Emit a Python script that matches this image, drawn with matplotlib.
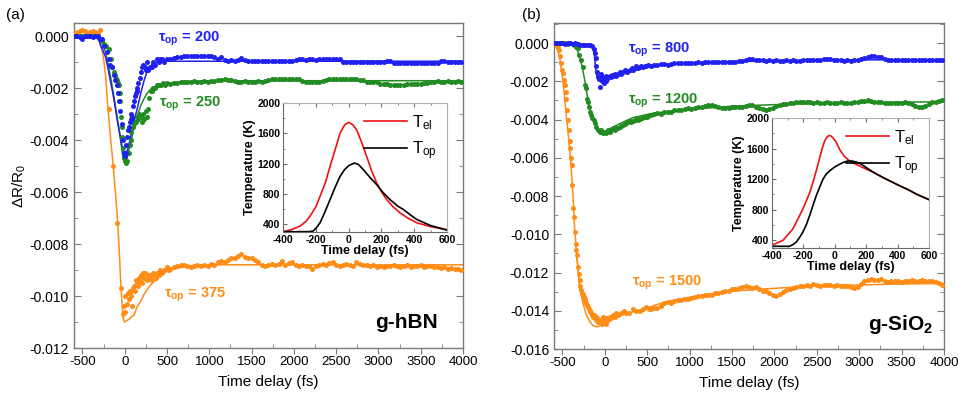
import numpy as np
import matplotlib
matplotlib.use('Agg')
import matplotlib.pyplot as plt
from matplotlib.ticker import MultipleLocator, FuncFormatter

plt.rcParams['font.family'] = ['Liberation Sans', 'DejaVu Sans']
plt.rcParams['mathtext.fontset'] = 'custom'
plt.rcParams['mathtext.rm'] = 'Liberation Sans'
plt.rcParams['mathtext.it'] = 'Liberation Sans:italic'
plt.rcParams['mathtext.bf'] = 'Liberation Sans:bold'

BLUE = '#2020f0'
GREEN = '#228b22'
ORANGE = '#ff8c14'

# ---------------- data (delta R / R0 in units of 1e-4) ----------------
tail_t = list(range(540, 4000, 40))   # sampling grid of the long-delay part

# panel (a) g-hBN
blue_a_front_t = [-590,-560,-530,-504,-470,-440,-410,-380,-350,-320,
                  -290,-267,-240,-210,-185,-168,-150,-130,-109,-95,
                  -80,-65,-50,-35,-22,-11,0,10,20,30,
                  40,49,60,70,80,89,100,110,120,130,
                  140,148,160,175,190,205,220,235,250,266,
                  280,295,306,325,340,360,380,400,420,440,
                  470,500]
blue_a_front_v = [0,0,-0.5,-1,0,0,0,-0.5,0,0,
                  -1,-1,-4,-6,-9,-11,-12,-15,-17,-19,
                  -22,-25,-29,-34,-40,-45,-46,-45,-42,-39,
                  -36,-35,-33,-32,-30,-31,-27,-25,-23,-22,
                  -21,-20,-18,-16,-14,-12,-11,-12,-13,-10,
                  -13,-12,-12,-12,-10,-11,-9,-10,-9,-9,
                  -10,-9]
blue_a_tail_v = [-8.8,-8.5,-8.2,-8.0,-7.8,-7.6,-7.5,-7.5,-7.6,-7.5,
                 -7.6,-7.5,-7.6,-8.0,-8.8,-8.0,-9.4,-9.5,-9.4,-9.5,
                 -9.4,-8.5,-9.3,-9.5,-9.6,-9.6,-9.5,-9.7,-9.6,-9.7,
                 -9.8,-9.7,-9.8,-9.7,-9.7,-9.8,-9.7,-9.1,-9.0,-9.0,
                 -9.1,-9.0,-9.0,-9.1,-9.0,-9.0,-8.8,-8.7,-8.7,-8.7,
                 -8.8,-10.0,-10.0,-10.1,-10.0,-10.0,-10.1,-10.0,-10.0,-10.1,
                 -10.0,-10.0,-10.1,-10.0,-9.5,-9.5,-10.3,-10.3,-10.4,-10.3,
                 -10.3,-10.4,-10.3,-10.3,-10.4,-10.3,-10.4,-10.3,-10.3,-10.2,
                 -9.5,-9.6,-10.0,-10.0,-10.1,-10.0,-10.0]

green_a_front_t = [-590,-560,-530,-500,-470,-440,-410,-380,-350,-320,
                   -290,-265,-250,-220,-188,-165,-148,-130,-115,-100,
                   -89,-80,-70,-60,-50,-45,-35,-28,-20,-11,
                   0,15,30,45,60,69,80,95,110,128,
                   140,155,170,187,200,215,230,246,260,275,
                   290,306,320,340,360,380,400,424,450,475,
                   500]
green_a_front_v = [0,0,0,0,0,0,0,0,0,-0.5,
                   -1,-2,-3,-4,-5,-9,-12,-14,-15,-16,
                   -17,-18,-19,-22,-25,-31,-35,-39,-43,-47,
                   -48,-49,-48,-45,-42,-40,-37,-35,-34,-33,
                   -31,-32,-30,-31,-33,-30,-32,-29,-31,-28,
                   -24,-21,-21,-20,-20,-19,-19,-19,-18,-19,
                   -18]
green_a_tail_v = [-18.5,-18.2,-18.0,-17.8,-17.6,-17.5,-17.5,-17.4,-17.5,-17.5,
                  -17.4,-17.5,-17.4,-17.3,-16.8,-16.8,-16.7,-16.8,-16.8,-17.3,
                  -17.5,-17.5,-17.4,-17.5,-17.5,-17.5,-17.4,-17.5,-17.4,-16.8,
                  -16.5,-16.5,-16.4,-16.5,-16.5,-16.4,-16.5,-16.6,-16.7,-17.4,
                  -17.5,-17.5,-17.6,-17.5,-17.5,-17.4,-17.0,-16.6,-16.5,-16.6,
                  -16.5,-16.6,-16.5,-16.6,-16.7,-16.6,-16.8,-17.0,-17.5,-17.5,
                  -17.6,-17.6,-18.3,-18.5,-18.6,-18.7,-18.8,-18.8,-18.7,-18.8,
                  -18.6,-18.5,-18.5,-18.4,-18.3,-18.2,-18.0,-17.6,-17.5,-17.4,
                  -17.5,-17.5,-17.4,-17.5,-17.5,-17.4,-17.5]

orange_a_front_t = [-590,-560,-530,-500,-470,-440,-410,-380,-350,-320,
                    -290,-188,-137,-89,-38,-23,-10,0,9,25,
                    35,50,60,69,75,89,100,110,120,135,
                    150,160,167,180,195,210,220,230,245,260,
                    275,290,306,320,335,350,365,385,400,420,
                    440,460,480,500,520]
orange_a_front_v = [1,1.5,2,2.5,2,1,1.5,2,1.5,1,
                    2.5,-28,-50,-72,-97,-107,-104,-106,-100,-103,
                    -99,-101,-98,-98,-100,-104,-97,-96,-98,-94,
                    -95,-96,-93,-94,-92,-95,-91,-93,-91,-94,
                    -92,-93,-92,-94,-91,-92,-93,-91,-92,-90,
                    -91,-90,-90,-89,-90]
orange_a_tail_v = [-89.5,-89.0,-88.5,-88.2,-88.0,-88.5,-88.8,-88.3,-88.0,-88.6,
                   -88.2,-88.5,-87.5,-88.0,-87.0,-86.5,-86.8,-86.0,-85.5,-85.2,
                   -84.5,-83.8,-85.0,-85.5,-85.5,-86.0,-87.0,-88.0,-88.5,-88.0,
                   -87.5,-88.2,-87.8,-86.5,-88.0,-87.2,-86.8,-88.0,-88.5,-88.0,
                   -88.3,-88.5,-89.8,-88.5,-88.0,-87.5,-88.0,-87.2,-86.8,-88.0,
                   -88.3,-88.0,-87.5,-88.2,-88.5,-87.0,-87.5,-88.2,-88.0,-88.6,
                   -88.2,-88.8,-88.5,-88.7,-88.3,-88.6,-88.0,-88.5,-88.8,-88.5,
                   -88.2,-88.8,-88.5,-88.6,-88.0,-88.8,-88.5,-88.6,-89.0,-88.7,
                   -89.3,-89.0,-89.5,-89.2,-89.5,-89.6,-90.0]

# fits, panel (a) (delta R / R0)
blue_a_fit_t = [-600,-400,-346,-300,-287,-260,-227,-200,-168,-140,
                -109,-80,-50,-30,-11,0,9,20,40,69,
                100,148,190,226,260,300,325,380,464,600,
                1000,2000,3000,4000]
blue_a_fit_v = [0,0,0,-0.0002,-0.00035,-0.00055,-0.0008,-0.0012,-0.00175,-0.0022,
                -0.0028,-0.0034,-0.0039,-0.0043,-0.0045,-0.0046,-0.0046,-0.0045,-0.0043,-0.0039,
                -0.0034,-0.0028,-0.0022,-0.00175,-0.0014,-0.0012,-0.00108,-0.0010,-0.00097,-0.00097,
                -0.00097,-0.00097,-0.00097,-0.00097]
green_a_fit_t = [-600,-400,-307,-280,-250,-220,-188,-160,-129,-100,
                 -70,-45,-18,2,20,49,80,108,150,187,
                 230,266,320,385,460,543,700,1000,2000,3000,
                 4000]
green_a_fit_v = [0,0,0,-0.0002,-0.0004,-0.0007,-0.0012,-0.0017,-0.0023,-0.0029,
                 -0.0035,-0.0041,-0.00475,-0.0049,-0.0048,-0.0044,-0.0040,-0.0035,-0.0031,-0.0027,
                 -0.0024,-0.0022,-0.0020,-0.0019,-0.00185,-0.0018,-0.00175,-0.00172,-0.00172,-0.00172,
                 -0.00172]
orange_a_fit_t = [-600,-400,-326,-300,-267,-245,-227,-200,-168,-136,
                  -110,-89,-70,-50,-30,-15,-3,20,49,80,
                  108,150,190,226,300,385,460,543,720,1000,
                  2000,3000,4000]
orange_a_fit_v = [0,0,0,-0.0002,-0.00055,-0.001,-0.0015,-0.0027,-0.0039,-0.005,
                  -0.006,-0.0069,-0.0079,-0.0093,-0.0104,-0.0109,-0.011,-0.01095,-0.0109,-0.0108,
                  -0.01075,-0.0104,-0.0102,-0.00995,-0.0096,-0.0093,-0.0091,-0.0090,-0.00885,-0.0088,
                  -0.0088,-0.0088,-0.0088]

# panel (b) g-SiO2
blue_b_front_t = [-590,-560,-530,-500,-470,-440,-410,-380,-350,-320,
                  -290,-260,-230,-200,-170,-150,-130,-121,-110,-101,
                  -90,-81,-70,-62,-50,-40,-30,-22,-10,0,
                  10,18,30,40,57,70,85,100,120,136,
                  155,175,195,215,235,255,275,295,315,333,
                  350,370,390,410,430,450,470,490,510]
blue_b_front_v = [0,0,0,0,-0.3,0,0,-0.5,0,-0.5,
                  -0.8,-1,-1.2,-1,-1,-1.5,-3,-5,-8,-12,
                  -15,-18,-19,-23,-16,-19,-20,-18,-21,-19,
                  -20,-17,-19,-18,-17,-18,-16.5,-17,-16,-17,
                  -16,-15,-16,-15,-14,-15,-14.5,-14,-13,-14,
                  -13,-12,-13,-12.5,-12,-12.5,-12,-12,-11.5]
blue_b_tail_v = [-11.8,-11.5,-11.6,-11.2,-11.0,-11.3,-10.8,-10.6,-10.5,-10.6,
                 -10.3,-10.4,-10.2,-10.3,-10.1,-10.2,-10.0,-10.1,-9.9,-10.0,
                 -9.8,-9.9,-9.8,-9.7,-9.8,-9.7,-9.6,-9.5,-9.0,-8.5,
                 -8.4,-8.6,-9.0,-9.1,-9.2,-9.1,-9.2,-9.1,-9.2,-9.2,
                 -9.1,-9.2,-9.1,-9.2,-9.2,-9.1,-9.0,-9.1,-9.1,-9.0,
                 -8.8,-8.4,-8.3,-8.4,-8.6,-9.0,-9.1,-9.2,-9.1,-9.2,
                 -9.0,-8.8,-8.4,-8.0,-7.5,-7.0,-6.8,-7.2,-7.5,-8.4,
                 -8.9,-9.0,-9.1,-9.0,-9.1,-9.0,-9.1,-9.0,-8.9,-9.0,
                 -9.1,-9.0,-8.9,-9.0,-8.9,-9.0,-9.1]

green_b_front_t = [-590,-560,-530,-500,-470,-440,-410,-380,-360,-342,
                   -322,-303,-283,-259,-240,-228,-212,-200,-188,-180,
                   -160,-148,-133,-117,-101,-81,-62,-42,-22,-2,
                   18,37,57,77,96,116,136,155,175,195,
                   215,235,254,273,293,313,333,353,373,392,
                   412,432,452,472,491,511]
green_b_front_v = [0,0,0.2,0,0,-0.3,0,-0.5,-1,-1.9,
                   -2.8,-6.3,-8.9,-12.4,-22,-23.7,-29,-30.7,-33.3,-35.9,
                   -37.6,-39.4,-40.3,-42,-43.8,-45.5,-46.4,-45.5,-47.2,-46.4,
                   -47.2,-45.5,-46.4,-45.5,-45.1,-45.5,-44.6,-44.2,-43.8,-43.4,
                   -42.9,-42.5,-42,-41.5,-40.6,-41.2,-41,-40.2,-39.4,-40.1,
                   -39.9,-39.2,-38.9,-38.6,-38.5,-38.2]
green_b_tail_v = [-37.5,-37.0,-36.5,-37.2,-36.0,-35.8,-36.0,-35.2,-34.8,-35.0,
                  -34.5,-34.2,-34.5,-34.0,-33.6,-33.2,-32.8,-32.5,-32.6,-33.0,
                  -33.5,-34.0,-34.0,-33.8,-33.5,-33.3,-33.4,-33.2,-32.8,-32.6,
                  -32.5,-33.5,-34.0,-34.5,-34.8,-34.6,-34.0,-33.0,-32.5,-32.0,
                  -31.8,-31.5,-31.2,-31.0,-30.8,-30.7,-30.8,-31.0,-31.2,-31.0,
                  -31.3,-31.2,-31.0,-31.2,-31.4,-31.2,-31.0,-31.3,-31.5,-31.2,
                  -31.0,-30.8,-30.4,-30.2,-30.0,-30.3,-30.6,-30.8,-31.0,-31.2,
                  -31.3,-31.1,-31.2,-31.3,-31.2,-31.0,-31.4,-32.0,-33.0,-33.5,
                  -33.6,-33.0,-32.0,-31.0,-30.6,-30.2,-30.0]

orange_b_front_t = [-590,-575,-555,-536,-524,-516,-504,-496,-484,-476,
                    -464,-456,-445,-437,-429,-417,-409,-401,-393,-385,
                    -378,-370,-358,-346,-338,-328,-318,-307,-299,-289,
                    -279,-269,-259,-250,-240,-230,-220,-210,-200,-190,
                    -180,-170,-160,-150,-141,-130,-120,-110,-101,-90,
                    -80,-70,-62,-50,-40,-30,-22,-10,0,10,
                    18,30,40,57,75,100,120,136,160,190,
                    220,254,290,330,370,412,450,490,520]
orange_b_front_v = [0,-1,-2,-3.7,-7,-10.6,-14,-15.8,-19.3,-22,
                    -25.4,-29,-35,-40,-45.5,-51,-55,-60,-64,-74,
                    -86,-91,-99,-105,-108,-111,-117,-121,-124,-127,
                    -129,-131,-131,-133,-134,-135,-136,-137,-138,-139,
                    -140,-140,-141,-142,-143,-142,-144,-143,-145,-144,
                    -146,-145,-145,-146,-145,-147,-143,-145,-144,-146,
                    -147,-144,-145,-143,-144,-142,-143,-141,-142,-141,
                    -140,-141,-141,-139,-140,-140,-139,-138,-139]
orange_b_tail_v = [-139.0,-138.5,-138.8,-137.5,-136.0,-135.5,-135.8,-135.0,-134.5,-134.2,
                   -133.8,-134.0,-133.2,-133.0,-132.5,-132.2,-131.8,-131.5,-131.6,-130.8,
                   -130.5,-130.2,-129.8,-129.5,-128.8,-128.5,-128.2,-127.5,-127.2,-127.6,
                   -128.0,-127.8,-128.5,-129.6,-129.8,-130.5,-131.5,-132.5,-131.0,-130.0,
                   -129.2,-128.8,-128.0,-127.5,-127.2,-127.0,-126.5,-126.8,-126.2,-126.5,
                   -126.8,-126.3,-126.6,-126.4,-127.0,-126.5,-127.2,-126.8,-127.0,-127.8,
                   -128.3,-127.5,-126.0,-124.5,-123.8,-123.5,-123.8,-124.0,-123.6,-124.5,
                   -124.8,-124.3,-124.6,-124.5,-124.8,-124.2,-124.5,-124.0,-124.3,-124.6,
                   -124.0,-124.4,-124.6,-124.3,-124.8,-125.5,-126.5]

# fits, panel (b)
blue_b_fit_t = [-600,-400,-200,-140,-130,-120,-110,-100,-90,-70,
                -40,0,50,100,200,300,400,500,700,1000,
                1500,2000,2500,3000,3500,4000]
blue_b_fit_v = [0,0,-0.0001,-0.00015,-0.0003,-0.0008,-0.0013,-0.0016,-0.0018,-0.0019,
                -0.00195,-0.0019,-0.0018,-0.0017,-0.0016,-0.0015,-0.00135,-0.00125,-0.00112,-0.00105,
                -0.00097,-0.00093,-0.0009,-0.00088,-0.00087,-0.00087]
green_b_fit_t = [-600,-400,-360,-330,-299,-270,-239,-210,-180,-150,
                 -121,-80,-42,-10,20,70,136,230,333,531,
                 700,925,1200,1500,2000,2500,3000,3500,4000]
green_b_fit_v = [0,0,-0.0001,-0.0003,-0.0007,-0.0012,-0.0019,-0.0027,-0.0034,-0.0039,
                 -0.0042,-0.0045,-0.0046,-0.0047,-0.0046,-0.00445,-0.0043,-0.0041,-0.0039,-0.0037,
                 -0.0036,-0.0035,-0.0034,-0.0033,-0.00322,-0.00316,-0.00312,-0.00309,-0.00307]
orange_b_fit1_t = [-600,-570,-536,-505,-476,-450,-417,-400,-378,-358,
                   -330,-299,-259,-220,-180,-140,-101,-62,-22,18,
                   57,100,136,300,531,700,925,1200,1440,1800,
                   2100,2465,3000,3500,4000]
orange_b_fit1_v = [0,-0.0002,-0.0007,-0.0016,-0.0028,-0.0040,-0.0055,-0.0064,-0.0078,-0.0096,
                   -0.0112,-0.0127,-0.0136,-0.0142,-0.01455,-0.01478,-0.01484,-0.0148,-0.0147,-0.01458,
                   -0.01448,-0.0144,-0.01432,-0.0141,-0.0138,-0.01355,-0.01335,-0.01315,-0.013,-0.01288,
                   -0.0128,-0.0127,-0.01265,-0.0126,-0.01257]
orange_b_fit2_t = [-330,-299,-259,-220,-180,-141,-101,-62,-22,18,57,100,136]
orange_b_fit2_v = [-0.0112,-0.0127,-0.0132,-0.0137,-0.01405,-0.0143,-0.0145,-0.01457,-0.01455,
                   -0.0145,-0.01445,-0.0144,-0.01432]

# insets: temperatures (K)
tel_a_t = [-400,-350,-296,-260,-235,-200,-174,-140,-113,-80,
           -52,-25,0,25,49,80,110,140,171,200,
           232,270,313,360,415,500,600]
tel_a_v = [305,330,378,440,509,630,771,960,1165,1400,
           1603,1710,1745,1715,1646,1480,1296,1110,947,830,
           728,635,553,485,422,370,330]
top_a_t = [-400,-300,-240,-215,-195,-174,-145,-113,-80,-52,
           -25,0,35,60,90,130,171,210,252,300,
           334,380,415,500,600]
top_a_v = [304,304,305,314,360,422,560,728,900,1034,
           1120,1174,1209,1190,1121,1020,925,820,728,640,
           597,520,466,385,325]
tel_b_t = [-400,-330,-266,-203,-160,-139,-115,-96,-80,-65,
           -50,-37,-25,-11,10,31,60,95,140,180,
           250,307,360,413,470,519,600]
tel_b_v = [335,400,551,811,1020,1157,1330,1481,1600,1697,
           1750,1771,1765,1741,1680,1589,1500,1438,1390,1351,
           1285,1222,1168,1114,1060,1005,932]
top_b_t = [-400,-300,-287,-265,-245,-225,-203,-180,-160,-140,
           -118,-95,-75,-55,-33,0,31,60,84,110,
           137,170,201,250,307,360,413,470,519,600]
top_b_v = [322,322,324,345,378,435,508,610,724,850,
           984,1100,1200,1265,1308,1360,1395,1425,1438,1437,
           1425,1395,1351,1285,1222,1168,1114,1060,1005,932]

# ---------------- figure ----------------
fig = plt.figure(figsize=(9.58, 3.98), dpi=100)
axA = fig.add_axes([0.0772, 0.1256, 0.4061, 0.8166])
axB = fig.add_axes([0.5783, 0.1231, 0.4071, 0.8191])
insA = fig.add_axes([0.2954, 0.4171, 0.1712, 0.3241])
insB = fig.add_axes([0.8058, 0.3769, 0.1639, 0.3266])

SPINE = '#7a7a7a'


def yfmt(v, p):
    s = f'{v:.3f}'
    return '0.000' if s == '-0.000' else s


def style_main(ax, ylim):
    ax.set_xlim(-600, 4000)
    ax.set_ylim(*ylim)
    ax.xaxis.set_major_locator(MultipleLocator(500))
    ax.xaxis.set_minor_locator(MultipleLocator(250))
    ax.yaxis.set_major_locator(MultipleLocator(0.002))
    ax.yaxis.set_minor_locator(MultipleLocator(0.001))
    ax.yaxis.set_major_formatter(FuncFormatter(yfmt))
    ax.xaxis.set_major_formatter(FuncFormatter(lambda v, p: f'{int(round(v))}'))
    for s in ax.spines.values():
        s.set_color(SPINE)
        s.set_linewidth(1.0)
    ax.tick_params(axis='y', which='both', direction='in', left=True, right=True,
                   color=SPINE, labelsize=10)
    ax.tick_params(axis='y', which='major', length=5)
    ax.tick_params(axis='y', which='minor', length=3)
    ax.tick_params(axis='x', which='major', direction='out', length=4, color=SPINE,
                   labelsize=9.5, pad=2)
    ax.tick_params(axis='x', which='minor', direction='in', length=3, color=SPINE)
    ax.set_xlabel('Time delay (fs)', fontsize=11, labelpad=5)


def dots_and_fit(ax, ft, fv, tv, fit_t, fit_v, color):
    t = list(ft) + tail_t
    v = np.array(list(fv) + list(tv)) * 1e-4
    ax.plot(t, v, 'o', ms=3.6, mec='none', color=color, zorder=3)
    ax.plot(fit_t, fit_v, '-', lw=1.1, color=color, zorder=2)


# panel (a)
style_main(axA, (-0.012, 0.0005))
dots_and_fit(axA, orange_a_front_t, orange_a_front_v, orange_a_tail_v,
             orange_a_fit_t, orange_a_fit_v, ORANGE)
dots_and_fit(axA, green_a_front_t, green_a_front_v, green_a_tail_v,
             green_a_fit_t, green_a_fit_v, GREEN)
dots_and_fit(axA, blue_a_front_t, blue_a_front_v, blue_a_tail_v,
             blue_a_fit_t, blue_a_fit_v, BLUE)
axA.set_ylabel('ΔR/R$_0$', fontsize=11, labelpad=1)
axA.text(395, -0.00012, r'$\mathregular{τ_{op}}$ = 200', color=BLUE, fontsize=10.5,
         fontweight='bold', ha='left', va='center')
axA.text(400, -0.0026, r'$\mathregular{τ_{op}}$ = 250', color=GREEN, fontsize=10.5,
         fontweight='bold', ha='left', va='center')
axA.text(460, -0.00995, r'$\mathregular{τ_{op}}$ = 375', color=ORANGE, fontsize=10.5,
         fontweight='bold', ha='left', va='center')
axA.text(3700, -0.011, 'g-hBN', fontsize=15, fontweight='bold', ha='right', va='center')

# panel (b)
style_main(axB, (-0.016, 0.00105))
dots_and_fit(axB, orange_b_front_t, orange_b_front_v, orange_b_tail_v,
             orange_b_fit1_t, orange_b_fit1_v, ORANGE)
axB.plot(orange_b_fit2_t, orange_b_fit2_v, '-', lw=1.1, color=ORANGE, zorder=2)
dots_and_fit(axB, green_b_front_t, green_b_front_v, green_b_tail_v,
             green_b_fit_t, green_b_fit_v, GREEN)
dots_and_fit(axB, blue_b_front_t, blue_b_front_v, blue_b_tail_v,
             blue_b_fit_t, blue_b_fit_v, BLUE)
axB.text(270, -0.00037, r'$\mathregular{τ_{op}}$ = 800', color=BLUE, fontsize=10.5,
         fontweight='bold', ha='left', va='center')
axB.text(270, -0.0030, r'$\mathregular{τ_{op}}$ = 1200', color=GREEN, fontsize=10.5,
         fontweight='bold', ha='left', va='center')
axB.text(318, -0.01255, r'$\mathregular{τ_{op}}$ = 1500', color=ORANGE, fontsize=10.5,
         fontweight='bold', ha='left', va='center')
axB.text(3880, -0.0147, r'g-SiO$_\mathbf{2}$', fontsize=15, fontweight='bold',
         ha='right', va='center')


def style_inset(ax):
    ax.set_xlim(-400, 600)
    ax.set_ylim(300, 2000)
    ax.xaxis.set_major_locator(MultipleLocator(200))
    ax.xaxis.set_minor_locator(MultipleLocator(100))
    ax.set_yticks([400, 800, 1200, 1600, 2000])
    ax.yaxis.set_minor_locator(MultipleLocator(200))
    ax.xaxis.set_major_formatter(FuncFormatter(lambda v, p: f'{int(round(v))}'))
    for side, s in ax.spines.items():
        s.set_linewidth(0.8)
        s.set_color('#6a6a6a' if side in ('left', 'bottom') else '#b0b0b0')
    ax.tick_params(which='both', direction='in', color='#6a6a6a', top=True, right=False,
                   labelsize=7.5, pad=2)
    ax.tick_params(which='major', length=3)
    ax.tick_params(which='minor', length=1.5)
    for lab in ax.get_xticklabels() + ax.get_yticklabels():
        lab.set_fontweight('bold')
    ax.set_xlabel('Time delay (fs)', fontsize=9, fontweight='bold', labelpad=0)
    ax.set_ylabel('Temperature (K)', fontsize=9, fontweight='bold', labelpad=1)


for ins, tt, tv, ot, ov in [(insA, tel_a_t, tel_a_v, top_a_t, top_a_v),
                            (insB, tel_b_t, tel_b_v, top_b_t, top_b_v)]:
    style_inset(ins)
    ins.plot(tt, tv, color='#ee1111', lw=1.2, label=r'T$_{\mathregular{el}}$')
    ins.plot(ot, ov, color='black', lw=1.2, label=r'T$_{\mathregular{op}}$')
    ins.legend(loc='upper right', frameon=False, fontsize=12, handlelength=2.6,
               handletextpad=0.3, labelspacing=0.45, borderaxespad=0.2)

fig.text(0.006, 0.962, '(a)', fontsize=11, va='center')
fig.text(0.545, 0.962, '(b)', fontsize=11, va='center')

fig.savefig('out.png', dpi=100)
